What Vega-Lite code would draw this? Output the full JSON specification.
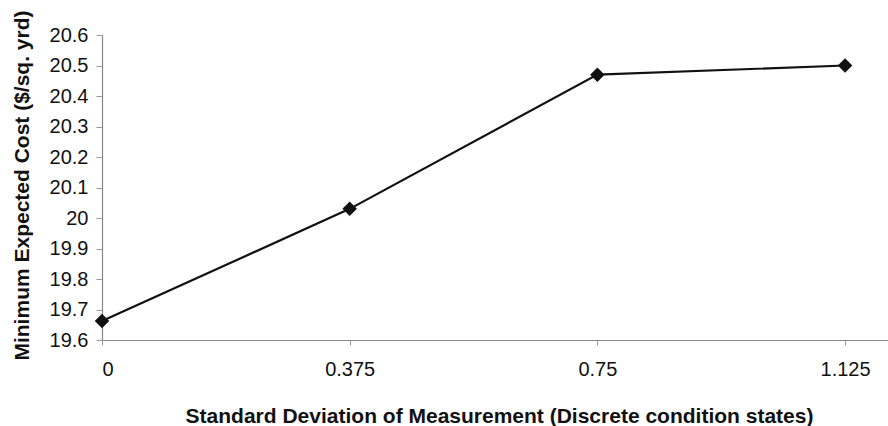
{
  "$schema": "https://vega.github.io/schema/vega-lite/v6.json",
  "autosize": {"type": "none"},
  "padding": {"left": 102, "top": 35, "right": 0, "bottom": 86},
  "width": 786,
  "height": 305,
  "background": "white",
  "config": {
    "view": {"stroke": null},
    "font": "Liberation Sans"
  },
  "data": {
    "values": [
      {"sd": 0, "cost": 19.662},
      {"sd": 0.375, "cost": 20.03},
      {"sd": 0.75, "cost": 20.47},
      {"sd": 1.125, "cost": 20.50}
    ]
  },
  "encoding": {
    "x": {
      "field": "sd",
      "type": "quantitative",
      "scale": {"domain": [0, 1.19], "nice": false, "zero": false},
      "axis": {
        "values": [0, 0.375, 0.75, 1.125],
        "labelExpr": "'' + datum.value",
        "title": "Standard Deviation of Measurement (Discrete condition states)",
        "titleFont": "Liberation Sans",
        "titleFontSize": 21,
        "titleFontWeight": "bold",
        "titleColor": "#111",
        "titleX": 397,
        "titleY": 76,
        "titleAnchor": "middle",
        "titleBaseline": "middle",
        "labelFont": "Liberation Sans",
        "labelFontSize": 20,
        "labelColor": "#111",
        "labelPadding": 14,
        "tickSize": 5,
        "tickColor": "#999",
        "domainColor": "#888",
        "domainWidth": 1.2,
        "grid": false
      }
    },
    "y": {
      "field": "cost",
      "type": "quantitative",
      "scale": {"domain": [19.6, 20.6], "nice": false, "zero": false},
      "axis": {
        "values": [19.6, 19.7, 19.8, 19.9, 20, 20.1, 20.2, 20.3, 20.4, 20.5, 20.6],
        "labelExpr": "'' + datum.value",
        "title": "Minimum Expected Cost ($/sq. yrd)",
        "titleFont": "Liberation Sans",
        "titleFontSize": 21,
        "titleFontWeight": "bold",
        "titleColor": "#111",
        "titleX": -80,
        "titleY": 150,
        "titleAnchor": "middle",
        "titleBaseline": "middle",
        "labelFont": "Liberation Sans",
        "labelFontSize": 20,
        "labelColor": "#111",
        "labelPadding": 8,
        "tickSize": 6,
        "tickColor": "#999",
        "domainColor": "#888",
        "domainWidth": 1.2,
        "grid": false
      }
    }
  },
  "layer": [
    {"mark": {"type": "line", "color": "#111", "strokeWidth": 2.2}},
    {"mark": {"type": "point", "shape": "diamond", "filled": true, "color": "#111", "size": 210, "opacity": 1}}
  ]
}
